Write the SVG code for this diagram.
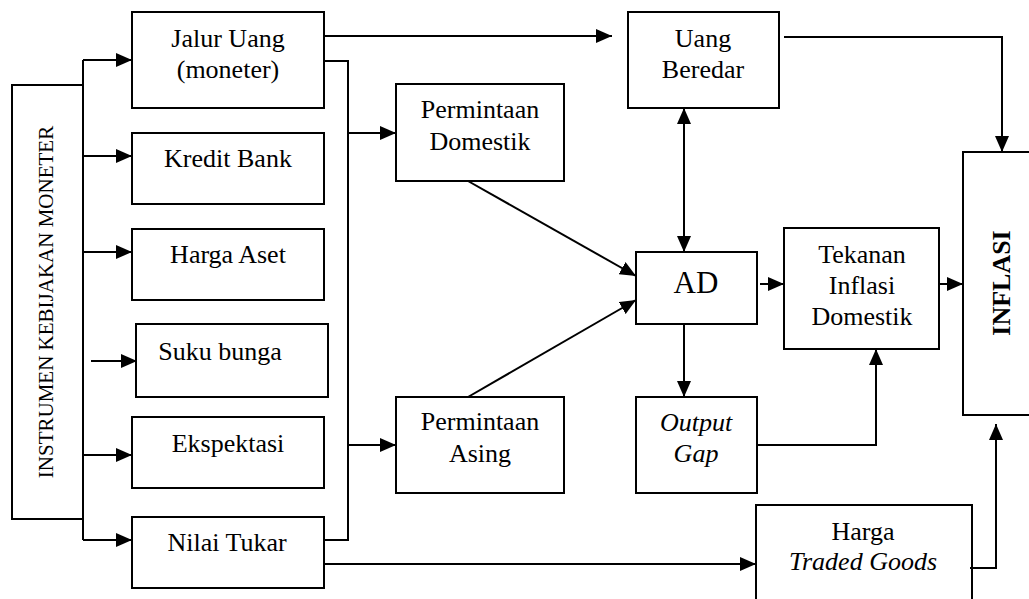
<svg xmlns="http://www.w3.org/2000/svg" width="1029" height="599" viewBox="0 0 1029 599">
<style>
.box{fill:#fff;stroke:#000;stroke-width:2}
.t{font-family:'Liberation Serif','DejaVu Serif',Times,serif;font-size:26px;fill:#000;text-anchor:middle}
.i{font-style:italic}
.c{fill:none;stroke:#000;stroke-width:2}
.a{marker-end:url(#ah)}
</style>
<defs>
<marker id="ah" markerUnits="userSpaceOnUse" viewBox="0 0 16 14" markerWidth="16" markerHeight="14" refX="16" refY="7" orient="auto-start-reverse">
<path d="M0,0 L16,7 L0,14 z" fill="#000"/>
</marker>
</defs>
<rect width="1029" height="599" fill="#fff"/>
<g id="instrumen"><rect class="box" x="12" y="85" width="71" height="434"/>
<text class="t" font-family="Liberation Serif, serif" style="font-size:21px" transform="translate(53,302) rotate(-90)">INSTRUMEN KEBIJAKAN MONETER</text></g>
<g id="jalur"><rect class="box" x="132" y="12" width="192" height="96"/>
<text class="t" x="228" y="47">Jalur Uang</text><text class="t" x="228" y="78">(moneter)</text></g>
<g id="kredit"><rect class="box" x="132" y="133" width="192" height="71"/>
<text class="t" x="228" y="167">Kredit Bank</text></g>
<g id="aset"><rect class="box" x="132" y="229" width="192" height="71"/>
<text class="t" x="228" y="263">Harga Aset</text></g>
<g id="suku"><rect class="box" x="136" y="324" width="192" height="73"/>
<text class="t" x="220" y="360">Suku bunga</text></g>
<g id="ekspektasi"><rect class="box" x="132" y="417" width="192" height="71"/>
<text class="t" x="228" y="452">Ekspektasi</text></g>
<g id="nilai"><rect class="box" x="132" y="517" width="192" height="71"/>
<text class="t" x="227" y="551">Nilai Tukar</text></g>
<g id="pdom"><rect class="box" x="396" y="84" width="168" height="97"/>
<text class="t" x="480" y="118">Permintaan</text><text class="t" x="480" y="150">Domestik</text></g>
<g id="pasing"><rect class="box" x="396" y="397" width="168" height="96"/>
<text class="t" x="480" y="430">Permintaan</text><text class="t" x="480" y="462">Asing</text></g>
<g id="uang"><rect class="box" x="628" y="12" width="151" height="96"/>
<text class="t" x="703" y="47">Uang</text><text class="t" x="703" y="78">Beredar</text></g>
<g id="ad"><rect class="box" x="636" y="252" width="121" height="72"/>
<text class="t" style="font-size:31px" x="696" y="293">AD</text></g>
<g id="gap"><rect class="box" x="636" y="397" width="121" height="96"/>
<text class="t i" x="696" y="431">Output</text><text class="t i" x="696" y="462">Gap</text></g>
<g id="tekanan"><rect class="box" x="784" y="228" width="155" height="121"/>
<text class="t" x="862" y="263">Tekanan</text><text class="t" x="862" y="294">Inflasi</text><text class="t" x="862" y="325">Domestik</text></g>
<g id="inflasi"><rect class="box" x="963" y="152" width="80" height="263"/>
<text class="t" style="font-weight:bold" transform="translate(1010,283) rotate(-90)">INFLASI</text></g>
<g id="harga"><rect class="box" x="756" y="505" width="216" height="110"/>
<text class="t" x="863" y="540">Harga</text><text class="t i" x="863" y="570">Traded Goods</text></g>
<g id="connectors">
<path class="c" d="M83,60 V540"/>
<path class="c a" d="M83,60 H132"/>
<path class="c a" d="M83,156 H132"/>
<path class="c a" d="M83,252 H132"/>
<path class="c a" d="M91,361 H137"/>
<path class="c a" d="M83,455 H132"/>
<path class="c a" d="M83,540 H132"/>
<path class="c" d="M324,61 H348 V540 H324"/>
<path class="c a" d="M348,133 H396"/>
<path class="c a" d="M348,445 H396"/>
<path class="c a" d="M324,36 H612"/>
<path class="c a" d="M684,108 V252" marker-start="url(#ah)"/>
<path class="c a" d="M468,181 L636,276"/>
<path class="c a" d="M468,397 L636,300"/>
<path class="c a" d="M684,324 V397"/>
<path class="c a" d="M757,445 H876 V349"/>
<path class="c a" d="M760,284 H784"/>
<path class="c a" d="M939,284 H963"/>
<path class="c a" d="M784,37 H1002 V152"/>
<path class="c a" d="M324,564 H756"/>
<path class="c a" d="M970,568 H996 V424"/>
</g>
</svg>
